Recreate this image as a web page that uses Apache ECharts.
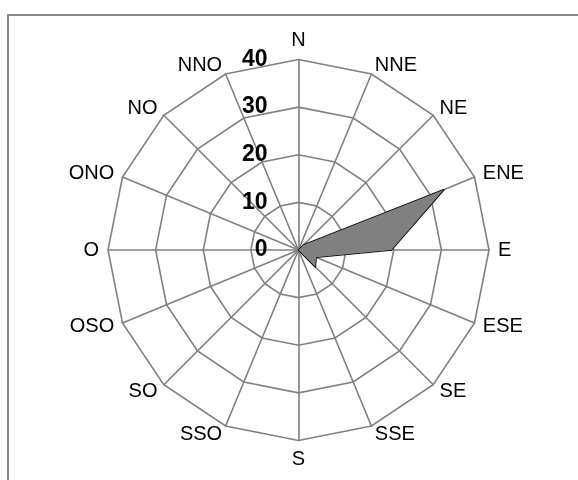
<!DOCTYPE html>
<html>
<head>
<meta charset="utf-8">
<script src="https://cdn.jsdelivr.net/npm/echarts@6/dist/echarts.min.js"></script>
<style>html,body{margin:0;padding:0;background:#fff;}#c{width:578px;height:480px;}</style>
</head>
<body>
<div id="c"></div>
<script>
// Directions, clockwise from north
var directions = ['N','NNE','NE','ENE','E','ESE','SE','SSE','S','SSO','SO','OSO','O','ONO','NO','NNO'];
var values = [0, 0, 1.5, 33, 19.5, 4, 5, 0, 0, 0, 0, 0, 0, 0, 0, 0];
var axisMax = 40;
var tickInterval = 10;

// ECharts radar lays indicators counterclockwise; reverse (keeping N first)
var order = [0];
for (var i = directions.length - 1; i >= 1; i--) order.push(i);

var indicators = order.map(function (idx, k) {
  var ind = { name: directions[idx], min: 0, max: axisMax };
  if (k === 0) ind.axisLabel = { show: true };
  return ind;
});
var seriesValues = order.map(function (idx) { return values[idx]; });

var chart = echarts.init(document.getElementById('c'), null, { renderer: 'canvas' });
chart.setOption({
  animation: false,
  backgroundColor: '#fff',
  textStyle: { fontFamily: 'Liberation Sans, Arial, sans-serif' },
  graphic: [{
    type: 'rect',
    shape: { x: 8, y: 15, width: 620, height: 520 },
    style: { fill: 'none', stroke: '#888', lineWidth: 2 },
    silent: true
  }],
  radar: {
    center: [298.5, 250],
    radius: 190.5,
    startAngle: 90,
    shape: 'polygon',
    splitNumber: axisMax / tickInterval,
    indicator: indicators,
    axisName: {
      color: '#000',
      fontSize: 20,
      fontFamily: 'Liberation Sans, Arial, sans-serif'
    },
    nameGap: 9,
    axisLine: { lineStyle: { color: '#808080', width: 1.6 } },
    splitLine: { lineStyle: { color: '#808080', width: 1.6 } },
    splitArea: { show: false },
    axisTick: { show: false },
    axisLabel: {
      show: false,
      color: '#000',
      fontSize: 23,
      fontWeight: 'bold',
      fontFamily: 'Liberation Sans, Arial, sans-serif',
      margin: 31
    }
  },
  series: [{
    type: 'radar',
    symbol: 'none',
    data: [{
      value: seriesValues,
      lineStyle: { color: '#000', width: 1.6 },
      areaStyle: { color: '#808080', opacity: 1 }
    }]
  }]
});
</script>
</body>
</html>
